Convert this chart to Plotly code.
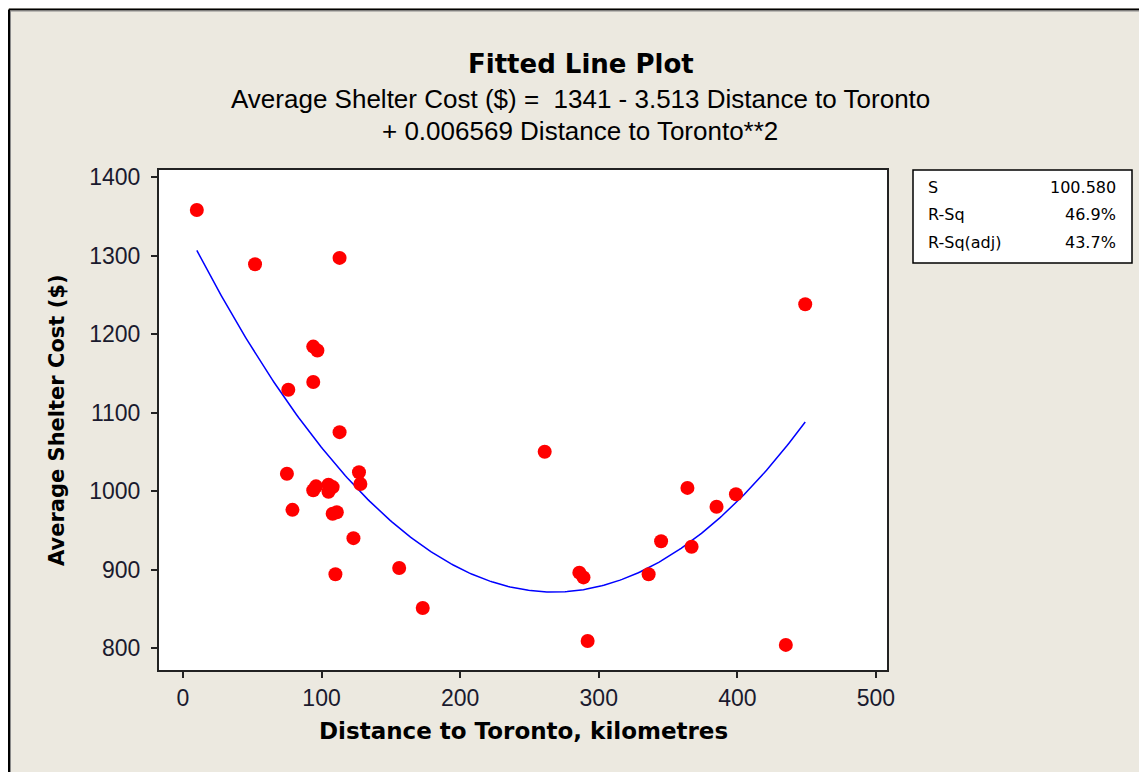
import numpy as np
import plotly.graph_objects as go

distance_km = [10, 52, 113, 94, 97, 94, 76, 113, 261, 75, 127, 128, 96, 94, 105,
               108, 105, 79, 108, 111, 123, 110, 156, 173, 286, 289, 292, 336,
               345, 364, 367, 385, 399, 435, 449]
shelter_cost = [1358, 1289, 1297, 1184, 1179, 1139, 1129, 1075, 1050, 1022, 1024,
                1009, 1006, 1001, 1008, 1005, 999, 976, 971, 973, 940, 894, 902,
                851, 896, 890, 809, 894, 936, 1004, 929, 980, 996, 804, 1238]

# Fitted regression coefficients (from the chart's equation)
coef_intercept = 1341
coef_linear = -3.513
coef_quad = 0.006569

stat_labels = ["S", "R-Sq", "R-Sq(adj)"]
stat_values = ["100.580", "46.9%", "43.7%"]

x_ticks = [0, 100, 200, 300, 400, 500]
y_ticks = [800, 900, 1000, 1100, 1200, 1300, 1400]

fit_x = np.linspace(min(distance_km), max(distance_km), 300)
fit_y = coef_intercept + coef_linear * fit_x + coef_quad * fit_x ** 2

BG = "#ECE9E0"
FONT = "Liberation Sans"
BOLD = "DejaVu Sans"

fig = go.Figure()
fig.add_trace(go.Scatter(x=fit_x, y=fit_y, mode="lines",
                         line=dict(color="#0000FF", width=1.5), hoverinfo="skip"))
fig.add_trace(go.Scatter(x=distance_km, y=shelter_cost, mode="markers",
                         marker=dict(color="#FF0000", size=14, line=dict(width=0))))

OFF = 8  # page body margin
# plot area in page pixel coordinates
L, R, T, B = 159, 887, 170, 670
W, H = 1147 - OFF, 772 - OFF
pw, ph = R - L, B - T
ml, mt = L - OFF, T - OFF
mr, mb = W - ml - pw, H - mt - ph


def px(x):
    return (x - L) / pw


def py(y):
    return (B - y) / ph


fig.update_layout(
    width=W, height=H,
    margin=dict(l=ml, r=mr, t=mt, b=mb, pad=0),
    paper_bgcolor=BG, plot_bgcolor="white",
    showlegend=False,
    font=dict(family=FONT, size=18, color="#1a1a2e"),
    xaxis=dict(range=[-17.3, 508], tickvals=x_ticks, ticks="outside", ticklen=6,
               tickwidth=2, tickcolor="#222", showline=True, linewidth=2,
               linecolor="#222", mirror=True, showgrid=False, zeroline=False,
               tickfont=dict(family=FONT, size=23)),
    yaxis=dict(range=[772, 1409], tickvals=y_ticks, ticks="outside", ticklen=6,
               tickwidth=2, tickcolor="#222", showline=True, linewidth=2,
               linecolor="#222", mirror=True, showgrid=False, zeroline=False,
               tickfont=dict(family=FONT, size=23), ticklabelstandoff=6),
)

annos = [
    dict(text="<b>Fitted Line Plot</b>", x=px(581), y=py(64),
         font=dict(family=BOLD, size=26, color="black")),
    dict(text="Average Shelter Cost ($) =  1341 - 3.513 Distance to Toronto",
         x=px(580), y=py(99), font=dict(family=FONT, size=26, color="black")),
    dict(text="+ 0.006569 Distance to Toronto**2", x=px(580), y=py(131),
         font=dict(family=FONT, size=26, color="black")),
    dict(text="<b>Distance to Toronto, kilometres</b>", x=px(523), y=py(731),
         font=dict(family=BOLD, size=23, color="black")),
    dict(text="<b>Average Shelter Cost ($)</b>", x=px(57), y=py(420), textangle=-90,
         font=dict(family=BOLD, size=21, color="black")),
]
for a in annos:
    a.update(xref="paper", yref="paper", showarrow=False, xanchor="center",
             yanchor="middle")
    fig.add_annotation(**a)

row_y = [187, 214, 242]
for lab, val, yy in zip(stat_labels, stat_values, row_y):
    fig.add_annotation(text=lab, x=px(926), y=py(yy), xref="paper", yref="paper",
                       showarrow=False, xanchor="left", yanchor="middle",
                       font=dict(family=BOLD, size=16, color="black"))
    fig.add_annotation(text=val, x=px(1118), y=py(yy), xref="paper", yref="paper",
                       showarrow=False, xanchor="right", yanchor="middle",
                       font=dict(family=BOLD, size=16, color="black"))

fig.add_shape(type="rect", xref="paper", yref="paper",
              x0=px(913), x1=px(1132), y0=py(263), y1=py(170),
              line=dict(color="black", width=1.5), fillcolor="white", layer="below")
# outer window frame (top and left edges)
fig.add_shape(type="line", xref="paper", yref="paper",
              x0=px(9), x1=px(1160), y0=py(9.5), y1=py(9.5),
              line=dict(color="black", width=2))
fig.add_shape(type="line", xref="paper", yref="paper",
              x0=px(9), x1=px(9), y0=py(9.5), y1=py(790),
              line=dict(color="black", width=2))
fig.add_shape(type="line", xref="paper", yref="paper",
              x0=px(10.5), x1=px(1160), y0=py(11), y1=py(11),
              line=dict(color="#8a8a8a", width=1))
fig.add_shape(type="line", xref="paper", yref="paper",
              x0=px(10.5), x1=px(10.5), y0=py(11), y1=py(790),
              line=dict(color="#8a8a8a", width=1))

fig.write_html("out.html")
